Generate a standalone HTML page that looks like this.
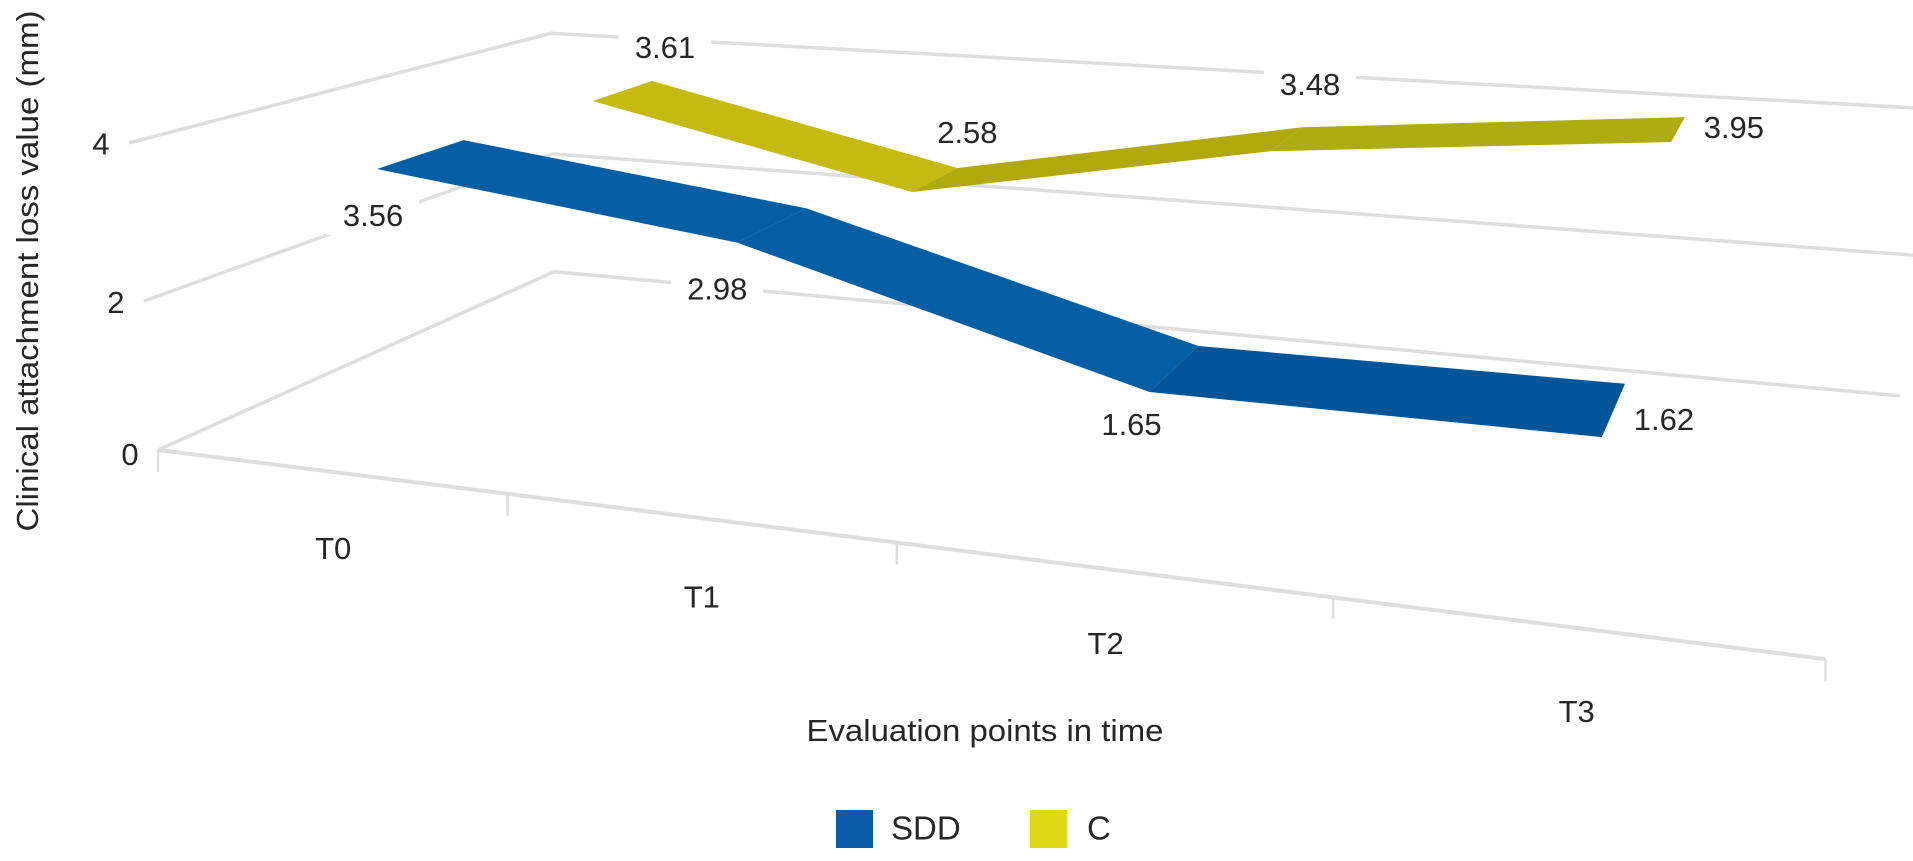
<!DOCTYPE html>
<html lang="en">
<head>
<meta charset="utf-8">
<title>Clinical attachment loss by evaluation point</title>
<style>
  html, body { margin: 0; padding: 0; background: #fff; }
  svg { display: block; font-family: "Liberation Sans", Arial, sans-serif; fill: #262626; }
  text { font-size: 31px; }
  .legend-text { font-size: 33px; }
</style>
</head>
<body>
<svg id="chart" width="1913" height="861" viewBox="0 0 1913 861" xmlns="http://www.w3.org/2000/svg">
  <g id="grid"></g>
  <g id="axis"></g>
  <g id="halos"></g>
  <g id="series"></g>
  <g id="labels"></g>
  <text transform="translate(27,271) rotate(-90)" text-anchor="middle" dy="0.35em" textLength="521" lengthAdjust="spacingAndGlyphs">Clinical attachment loss value (mm)</text>
  <text x="985" y="730" text-anchor="middle" dy="0.35em" textLength="357" lengthAdjust="spacingAndGlyphs">Evaluation points in time</text>
  <g>
    <g>
      <rect x="836" y="810" width="37" height="38" fill="#0a5ca8"></rect>
      <text class="legend-text" x="891" y="828" dy="0.35em">SDD</text>
    </g>
    <g>
      <rect x="1030" y="810" width="37" height="38" fill="#dfd814"></rect>
      <text class="legend-text" x="1087" y="828" dy="0.35em">C</text>
    </g>
  </g>
</svg>
<script>
const categories = ['T0', 'T1', 'T2', 'T3'];
const sddValues = [3.56, 2.98, 1.65, 1.62];
const cValues = [3.61, 2.58, 3.48, 3.95];
const yTicks = [0, 2, 4];

const NS = 'http://www.w3.org/2000/svg';

// Perspective axis function: category position u, depth w (0 front, 1 back), value v.
function project(u, w, v) {
  const d = 1 - 0.0511 * u + 0.2847 * w - 0.01485 * v;
  return [
    (323.6 * u + 553.7 * w - 9.175 * v + 158) / d,
    (18.6 * u - 101 * w - 78.9 * v + 450) / d
  ];
}
function add(parent, tag, attrs, text) {
  const el = document.createElementNS(NS, tag);
  for (const k in attrs) el.setAttribute(k, attrs[k]);
  if (text !== undefined) el.textContent = text;
  parent.appendChild(el);
  return el;
}
const pts = list => list.map(p => p[0].toFixed(1) + ',' + p[1].toFixed(1)).join(' ');

const gridG = document.getElementById('grid');
const axisG = document.getElementById('axis');
const halosG = document.getElementById('halos');
const seriesG = document.getElementById('series');
const labelsG = document.getElementById('labels');

// Gridlines: left wall then back wall at each tick value
const BACK_END_U = 4.11;
function wallPoint(u, v) {
  const p = project(u, 1, v);
  const k = (v / 4) * (v / 4);
  return [p[0], p[1] + k * (6 - 3 * u / BACK_END_U)];
}
yTicks.forEach(v => {
  const line = add(gridG, 'polyline', {
    points: pts([project(0, 0, v), wallPoint(0, v), wallPoint(BACK_END_U, v)]),
    fill: 'none', stroke: '#dedede', 'stroke-width': 3.5, 'stroke-linejoin': 'miter'
  });
  
  
  const p = project(0, 0, v);
  const t = add(labelsG, 'text', {
    x: p[0] - 28, y: p[1] + (v === 0 ? 4 : 1), dy: '0.35em', 'text-anchor': 'middle'
  }, String(v));
  
  
});

// Category axis and ticks
const axisLine = add(axisG, 'polyline', {
  points: pts([project(0, 0, 0), project(categories.length, 0, 0)]),
  fill: 'none', stroke: '#dedede', 'stroke-width': 4
});


for (let i = 0; i <= categories.length; i++) {
  const p = project(i, 0, 0);
  const tick = add(axisG, 'line', {
    x1: p[0], y1: p[1], x2: p[0], y2: p[1] + 22, stroke: '#dedede', 'stroke-width': 2.5
  });
  
  
}
const categoryLabelShift = [[5, 77], [5, 79], [-3, 74], [5, 84]];
categories.forEach((c, i) => {
  const p = project(i + 0.5, 0, 0);
  const t = add(labelsG, 'text', {
    x: p[0] + categoryLabelShift[i][0], y: p[1] + categoryLabelShift[i][1], dy: '0.35em', 'text-anchor': 'middle'
  }, c);
  
  
});

// Ribbons
function drawSeries(name, values, cfg) {
  const g = add(seriesG, 'g', {});
  
  
  for (let i = 0; i < values.length - 1; i++) {
    const quad = [
      project(cfg.u[i], cfg.front[i], values[i]),
      project(cfg.u[i], cfg.back[i], values[i]),
      project(cfg.u[i + 1], cfg.back[i + 1], values[i + 1]),
      project(cfg.u[i + 1], cfg.front[i + 1], values[i + 1])
    ];
    const seg = add(g, 'polygon', { points: pts(quad), fill: cfg.colors[i] });
    
    
  }
  values.forEach((val, i) => {
    const depth = cfg.anchorBack ? cfg.back[i] : cfg.front[i];
    const anchor = project(cfg.u[i], depth, val);
    const off = cfg.labelOffset[i];
    const x = anchor[0] + off[0], y = anchor[1] + off[1];
    const halo = add(halosG, 'rect', { x: x - 46, y: y - 20, width: 92, height: 40, fill: '#fff' });
    
    
    const t = add(labelsG, 'text', { x: x, y: y, dy: '0.35em', 'text-anchor': 'middle' }, val.toFixed(2));
    
    
  });
}

drawSeries('sdd', sddValues, {
  u: [0.482, 1.435, 2.468, 3.463],
  front: [0.149, 0.1615, 0.154, 0.1656],
  back: [0.347, 0.36, 0.36, 0.38],
  anchorBack: false,
  colors: ['#045ea4', '#045ea4', '#03559a'],
  labelOffset: [[-4, 46], [-20, 46], [-18, 32], [62, -18]]
});
drawSeries('c', cValues, {
  u: [0.541, 1.477, 2.445, 3.423],
  front: [0.6355, 0.6665, 0.669, 0.6586],
  back: [0.8125, 0.84, 0.846, 0.836],
  anchorBack: true,
  colors: ['#c4ba10', '#b0a90e', '#adac10'],
  labelOffset: [[13, -34], [10, -36], [8, -43], [49, 10]]
});
</script>
</body>
</html>
